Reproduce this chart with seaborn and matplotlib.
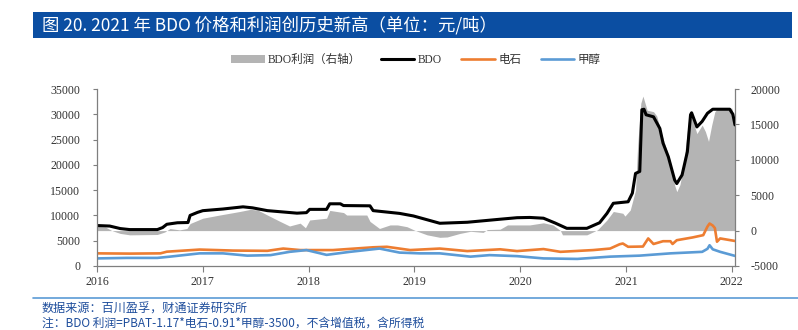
import numpy as np
import pandas as pd
import matplotlib
matplotlib.use("Agg")
import matplotlib.pyplot as plt
import seaborn as sns
from matplotlib.patches import Rectangle, Patch
from matplotlib.lines import Line2D

# ---------------- data ----------------
bdo_year = [2016.00, 2016.12, 2016.22, 2016.31, 2016.57, 2016.62, 2016.66, 2016.76, 2016.86, 2016.88,
            2016.95, 2017.00, 2017.19, 2017.38, 2017.47, 2017.61, 2017.89, 2017.98, 2018.01, 2018.17,
            2018.20, 2018.30, 2018.33, 2018.58, 2018.61, 2018.86, 2018.99, 2019.24, 2019.50, 2019.81,
            2019.97, 2020.09, 2020.22, 2020.33, 2020.44, 2020.63, 2020.75, 2020.82, 2020.88, 2021.02,
            2021.06, 2021.09, 2021.13, 2021.15, 2021.17, 2021.19, 2021.26, 2021.32, 2021.35, 2021.40,
            2021.46, 2021.48, 2021.53, 2021.58, 2021.61, 2021.62, 2021.67, 2021.72, 2021.77, 2021.82,
            2021.98, 2022.01, 2022.03]
bdo_price = [8000, 7900, 7400, 7200, 7200, 7600, 8250, 8550, 8600, 10000,
             10600, 10940, 11270, 11700, 11500, 10950, 10450, 10550, 11200, 11200,
             12300, 12300, 11950, 11900, 10950, 10400, 9900, 8450, 8650, 9250,
             9550, 9600, 9450, 8500, 7450, 7450, 8550, 10400, 12400, 12700,
             14400, 18300, 18700, 30900, 31000, 29900, 29500, 27200, 24300, 21600,
             17000, 16300, 18000, 22600, 29900, 30300, 27500, 28600, 30200, 31000,
             31000, 30000, 27900]

profit_year = [2016.00, 2016.08, 2016.14, 2016.22, 2016.31, 2016.57, 2016.64, 2016.69, 2016.78, 2016.85,
               2016.88, 2017.00, 2017.16, 2017.35, 2017.45, 2017.52, 2017.61, 2017.73, 2017.82, 2017.92,
               2017.97, 2018.01, 2018.17, 2018.20, 2018.33, 2018.36, 2018.55, 2018.58, 2018.67, 2018.77,
               2018.84, 2018.93, 2019.01, 2019.12, 2019.24, 2019.31, 2019.43, 2019.53, 2019.65, 2019.69,
               2019.81, 2019.88, 2020.00, 2020.09, 2020.22, 2020.31, 2020.38, 2020.40, 2020.63, 2020.73,
               2020.82, 2020.88, 2020.97, 2020.99, 2021.04, 2021.09, 2021.11, 2021.14, 2021.16, 2021.20,
               2021.26, 2021.29, 2021.34, 2021.42, 2021.46, 2021.48, 2021.51, 2021.54, 2021.59, 2021.62,
               2021.67, 2021.72, 2021.75, 2021.78, 2021.81, 2021.84, 2021.87, 2022.00, 2022.03]
bdo_profit = [600, 500, 0, -400, -600, -550, -200, 300, 100, 300,
              1000, 1750, 2200, 2700, 3000, 2900, 2200, 1300, 650, 1050,
              400, 1500, 1750, 2850, 2550, 2200, 2200, 1300, 300, 800,
              800, 550, 0, -600, -950, -900, -400, -100, -250, 150,
              200, 800, 800, 800, 1100, 800, 0, -600, -600, 100,
              1500, 2700, 2450, 2050, 2900, 5700, 12000, 18000, 19000, 17000,
              16800, 16200, 13500, 9700, 6400, 5500, 6500, 8800, 15400, 16100,
              13700, 14900, 14000, 12600, 14900, 16800, 17300, 17300, 15400]

carbide_year = [2016.00, 2016.31, 2016.60, 2016.66, 2016.97, 2017.29, 2017.61, 2017.76, 2017.92, 2018.23,
                2018.61, 2018.74, 2018.96, 2019.24, 2019.50, 2019.81, 2019.97, 2020.22, 2020.38, 2020.69,
                2020.85, 2020.94, 2020.97, 2021.02, 2021.16, 2021.21, 2021.26, 2021.35, 2021.42, 2021.44,
                2021.48, 2021.63, 2021.73, 2021.77, 2021.79, 2021.82, 2021.84, 2021.86, 2021.89, 2022.03]
carbide_price = [2500, 2450, 2500, 2830, 3250, 3050, 3000, 3450, 3150, 3150,
                 3700, 3800, 3150, 3450, 2950, 3300, 2950, 3350, 2800, 3150,
                 3450, 4300, 4450, 3800, 3850, 5450, 4350, 4900, 4900, 4350,
                 5100, 5650, 6100, 7800, 8400, 8000, 7500, 4800, 5450, 4950]

methanol_year = [2016.00, 2016.28, 2016.57, 2016.69, 2016.97, 2017.19, 2017.42, 2017.64, 2017.82, 2017.98,
                 2018.17, 2018.39, 2018.67, 2018.86, 2019.05, 2019.24, 2019.53, 2019.71, 2019.97, 2020.22,
                 2020.54, 2020.85, 2021.13, 2021.42, 2021.72, 2021.77, 2021.79, 2021.82, 2021.89, 2022.03]
methanol_price = [1500, 1600, 1600, 1850, 2500, 2500, 2050, 2150, 2800, 3150,
                  2200, 2800, 3450, 2650, 2500, 2500, 1850, 2150, 1950, 1500,
                  1400, 1850, 2050, 2500, 2800, 3400, 4100, 3300, 2800, 2000]

year_ticks = [2016, 2017, 2018, 2019, 2020, 2021, 2022]
left_ticks = [0, 5000, 10000, 15000, 20000, 25000, 30000, 35000]
right_ticks = [-5000, 0, 5000, 10000, 15000, 20000]

legend_labels = ["BDO利润（右轴）", "BDO", "电石", "甲醇"]
title_text = "图 20. 2021 年 BDO 价格和利润创历史新高（单位：元/吨）"
source_text = "数据来源：百川盈孚，财通证券研究所"
note_text = "注：BDO 利润=PBAT-1.17*电石-0.91*甲醇-3500，不含增值税，含所得税"

# ---------------- styling ----------------
sns.set_style("ticks")
serif_fam = ["Liberation Serif", "Noto Sans CJK SC", "DejaVu Sans"]
sans_fam = ["Noto Sans CJK SC", "DejaVu Sans"]
plt.rcParams["font.family"] = serif_fam
plt.rcParams["axes.unicode_minus"] = False

c_gray = "#B4B4B4"
c_black = "#000000"
c_orange = "#ED7D31"
c_blue = "#5B9BD5"
c_spine = "#7F7F7F"

fig = plt.figure(figsize=(7.98, 3.30), dpi=100)
W, H = 798, 330
ax = fig.add_axes([97 / W, 1 - 266 / H, (735 - 97) / W, (266 - 89) / H])
ax2 = ax.twinx()

df_profit = pd.DataFrame({"year": profit_year, "profit": bdo_profit})
df_bdo = pd.DataFrame({"year": bdo_year, "price": bdo_price})
df_carb = pd.DataFrame({"year": carbide_year, "price": carbide_price})
df_meth = pd.DataFrame({"year": methanol_year, "price": methanol_price})

# gray area on the right axis
ax2.fill_between(df_profit["year"], 0, df_profit["profit"], color=c_gray, lw=0)

# lines on the left axis (drawn above the twin)
sns.lineplot(data=df_carb, x="year", y="price", ax=ax, color=c_orange, lw=1.9, legend=False)
sns.lineplot(data=df_meth, x="year", y="price", ax=ax, color=c_blue, lw=1.9, legend=False)
sns.lineplot(data=df_bdo, x="year", y="price", ax=ax, color=c_black, lw=2.2, legend=False)
ax.set_zorder(ax2.get_zorder() + 1)
ax.patch.set_visible(False)

xmax = 2016 + (735 - 97) / 105.8
ax.set_xlim(2016, xmax)
ax.set_ylim(0, 35000)
ax2.set_ylim(-5000, 20000)
ax.set_xticks(year_ticks)
ax.set_xticklabels([str(y) for y in year_ticks])
ax.set_yticks(left_ticks)
ax.set_yticklabels([str(v) for v in left_ticks])
ax2.set_yticks(right_ticks)
ax2.set_yticklabels([str(v) for v in right_ticks])
ax.set_xlabel("")
ax.set_ylabel("")
ax2.set_ylabel("")

for a in (ax, ax2):
    for s in a.spines.values():
        s.set_color(c_spine)
        s.set_linewidth(0.9)
    a.spines["top"].set_visible(False)
ax.spines["right"].set_visible(False)
ax2.spines["left"].set_visible(False)
ax2.spines["bottom"].set_visible(False)

ax.tick_params(axis="y", direction="out", length=3, width=0.8, color=c_spine, pad=9,
               labelsize=8.6, labelcolor="#333333")
ax.tick_params(axis="x", direction="out", length=4, width=0.8, color=c_spine, pad=3,
               labelsize=8.6, labelcolor="#333333")
ax2.tick_params(axis="y", direction="out", length=3, width=0.8, color=c_spine, pad=8,
                labelsize=8.6, labelcolor="#333333")

# legend
handles = [Patch(facecolor=c_gray, edgecolor="none"),
           Line2D([], [], color=c_black, lw=2.2),
           Line2D([], [], color=c_orange, lw=1.9),
           Line2D([], [], color=c_blue, lw=1.9)]
leg = ax.legend(handles, legend_labels, loc="center", bbox_to_anchor=(0.5, 1.164),
                ncol=4, frameon=False, handlelength=2.9, handleheight=0.8, handletextpad=0.3,
                columnspacing=1.7, prop={"family": serif_fam, "size": 8.3})
for t in leg.get_texts():
    t.set_color("#333333")

# title banner
fig.patches.append(Rectangle((33 / W, 1 - 38 / H), (792 - 33) / W, 26 / H,
                             transform=fig.transFigure, facecolor="#0B4EA2", edgecolor="none"))
fig.text(42 / W, 1 - 25 / H, title_text, color="white", fontsize=12.5, family=sans_fam,
         fontweight="medium", va="center", ha="left")

# footer
fig.add_artist(Line2D([33 / W, 1.0], [1 - 298 / H, 1 - 298 / H], transform=fig.transFigure,
                      color="#5B9BD5", lw=1.2))
fig.text(42 / W, 1 - 309 / H, source_text, color="#1F4E9C", fontsize=8.7, family=sans_fam,
         va="center", ha="left")
fig.text(42 / W, 1 - 323 / H, note_text, color="#1F4E9C", fontsize=8.5, family=sans_fam,
         va="center", ha="left")

fig.savefig("out.png", dpi=100)
